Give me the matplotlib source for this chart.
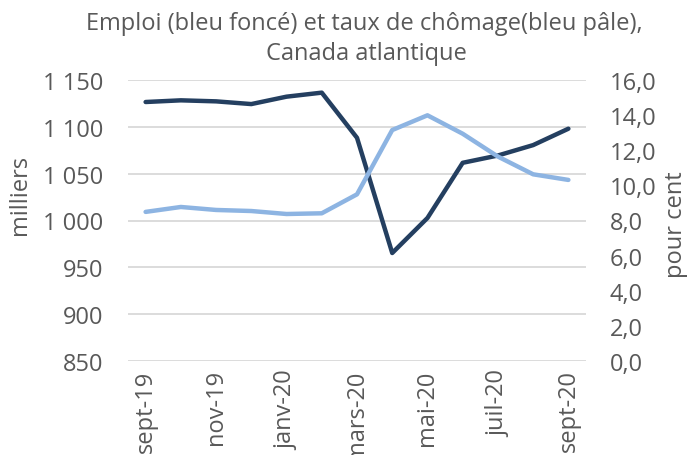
import matplotlib
matplotlib.use("Agg")
import matplotlib.pyplot as plt
from matplotlib.ticker import FuncFormatter

months = ["sept-19", "oct-19", "nov-19", "déc-19", "janv-20", "févr-20", "mars-20",
          "avr-20", "mai-20", "juin-20", "juil-20", "août-20", "sept-20"]
emploi = [1126.5, 1128.3, 1127.2, 1124.3, 1132.2, 1136.5, 1088.3,
          965.3, 1002.7, 1061.6, 1069.4, 1080.5, 1098.0]
chomage = [8.49, 8.77, 8.60, 8.54, 8.37, 8.41, 9.49,
           13.15, 13.99, 12.94, 11.64, 10.63, 10.31]
left_ticks = [850, 900, 950, 1000, 1050, 1100, 1150]
right_ticks = [0, 2, 4, 6, 8, 10, 12, 14, 16]

FS = 17
TXT = "#595959"
plt.rcParams['font.family'] = ['Open Sans', 'DejaVu Sans']
W, H = 687, 456
fig = plt.figure(figsize=(W / 100, H / 100), dpi=100)
ax = fig.add_axes([128 / W, 1 - 362 / H, (586 - 128) / W, (362 - 81) / H])
ax2 = ax.twinx()

x = list(range(len(months)))
ax.plot(x, emploi, color="#243F60", lw=3.2, solid_capstyle="round", zorder=3)
ax2.plot(x, chomage, color="#8DB4E2", lw=3.2, solid_capstyle="round", zorder=3)

ax.set_xlim(-0.5, len(months) - 0.5)
ax.set_ylim(850, 1150)
ax2.set_ylim(0, 16)
ax.set_yticks(left_ticks)
ax2.set_yticks(right_ticks)
ax.yaxis.set_major_formatter(FuncFormatter(lambda v, p: f"{int(v):,}".replace(",", " ")))
ax2.yaxis.set_major_formatter(FuncFormatter(lambda v, p: f"{v:.1f}".replace(".", ",")))
ax.grid(axis="y", color="#D9D9D9", lw=1.3)
ax.set_axisbelow(True)
ax.set_xticks(x[::2])
ax.set_xticklabels(months[::2], rotation=90, fontsize=FS, color=TXT)
for a in (ax, ax2):
    for s in a.spines.values():
        s.set_visible(False)
    a.tick_params(length=0, colors=TXT, labelsize=FS)
ax.tick_params(axis="y", pad=18)
ax2.tick_params(axis="y", pad=17)
ax.tick_params(axis="x", pad=6)
fig.text(20 / W, 1 - 195 / H, "milliers", rotation=90, ha="center", va="center",
         fontsize=FS, color=TXT)
fig.text(676 / W, 1 - 225 / H, "pour cent", rotation=90, ha="center", va="center",
         fontsize=FS, color=TXT)
fig.text(364 / W, 1 - 24 / H, "Emploi (bleu foncé) et taux de chômage(bleu pâle),",
         ha="center", va="center", fontsize=FS, color=TXT)
fig.text(366 / W, 1 - 54 / H, "Canada atlantique", ha="center", va="center",
         fontsize=FS, color=TXT)
fig.savefig("out.png", dpi=100)
